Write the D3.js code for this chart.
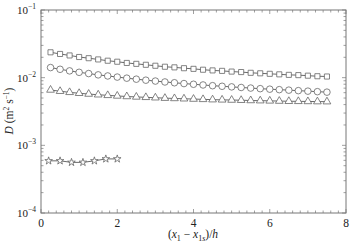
<!DOCTYPE html>
<html>
<head>
<script src="https://cdn.jsdelivr.net/npm/d3@7"></script>
<style type="text/css">
  body{
    margin: 0px;
    background: white;
  }
  svg text{
    font-family: 'Liberation Serif', 'DejaVu Serif', serif;
    fill: #222;
  }
</style>
</head>
<body>
<svg id="chart" width="350" height="242"></svg>
<script>

// data
var xLong = [0.25,0.5,0.75,1,1.25,1.5,1.75,2,2.25,2.5,2.75,3,3.25,3.5,3.75,
             4,4.25,4.5,4.75,5,5.25,5.5,5.75,6,6.25,6.5,6.75,7,7.25,7.5];

var squares = [0.0237,0.0224,0.0213,0.0202,0.0194,0.0186,0.0178,0.0172,0.0165,0.0160,
               0.0155,0.0150,0.0145,0.0142,0.0138,0.0135,0.0131,0.0128,0.0126,0.0123,
               0.0121,0.0118,0.0116,0.0114,0.0112,0.0110,0.0109,0.0107,0.0105,0.0104];

var circles = [0.0141,0.0133,0.0126,0.0120,0.0115,0.0110,0.0106,0.0102,0.00983,0.00950,
               0.00918,0.00891,0.00864,0.00841,0.00818,0.00799,0.00780,0.00761,0.00746,0.00731,
               0.00716,0.00702,0.00688,0.00676,0.00665,0.00654,0.00643,0.00632,0.00621,0.00611];

var triangles = [0.00658,0.00630,0.00607,0.00588,0.00573,0.00559,0.00548,0.00537,0.00527,0.00519,
                 0.00512,0.00505,0.00498,0.00493,0.00488,0.00483,0.00478,0.00473,0.00470,0.00467,
                 0.00464,0.00460,0.00457,0.00454,0.00451,0.00448,0.00447,0.00445,0.00443,0.00442];

var xShort = [0.2,0.5,0.8,1.1,1.4,1.7,2.0];
var stars = [0.00059,0.00059,0.00056,0.00056,0.00059,0.00063,0.00063];

var xTicks = [0,2,4,6,8];
var yTicks = [0.1,0.01,0.001,0.0001];
var yTickExp = ['\u22121','\u22122','\u22123','\u22124'];

var padL = 41, padR = 346, padT = 10, padB = 213;

var x = d3.scaleLinear().domain([0,8]).range([padL,padR]);
var y = d3.scaleLog().domain([1e-4,1e-1]).range([padB,padT]);

var svg = d3.select('#chart');
var axisColor = '#777';
var markColor = '#666';

// minor ticks
var xMinor = d3.range(0,8.001,0.2);
var yMinor = [];
[1e-4,1e-3,1e-2].forEach(function(p) {
  for (var k = 2; k <= 9; k++) yMinor.push(p*k);
});

var ticks = svg.append('g').attr('stroke', axisColor).attr('stroke-width', 0.7);

xMinor.forEach(function(v) {
  var len = (Math.abs(v/2 - Math.round(v/2)) < 1e-6) ? 4 : 2.5;
  ticks.append('line').attr('x1', x(v)).attr('x2', x(v)).attr('y1', padB).attr('y2', padB-len);
  ticks.append('line').attr('x1', x(v)).attr('x2', x(v)).attr('y1', padT).attr('y2', padT+len);
});
yMinor.concat(yTicks).forEach(function(v) {
  var len = yTicks.indexOf(v) >= 0 ? 4 : 2.5;
  ticks.append('line').attr('x1', padL).attr('x2', padL+len).attr('y1', y(v)).attr('y2', y(v));
  ticks.append('line').attr('x1', padR).attr('x2', padR-len).attr('y1', y(v)).attr('y2', y(v));
});

// frame
svg.append('rect')
  .attr('x', padL).attr('y', padT)
  .attr('width', padR-padL).attr('height', padB-padT)
  .attr('fill', 'none')
  .attr('stroke', axisColor)
  .attr('stroke-width', 1);

// x tick labels
svg.selectAll('.xlab')
  .data(xTicks)
  .enter()
  .append('text')
  .attr('class', 'xlab')
  .attr('x', function(d) { return x(d); })
  .attr('y', padB + 14)
  .attr('text-anchor', 'middle')
  .style('font-size', '11.5px')
  .text(function(d) { return d; });

// y tick labels 10^n
var ylab = svg.selectAll('.ylab')
  .data(yTicks)
  .enter()
  .append('text')
  .attr('class', 'ylab')
  .attr('x', padL - 5)
  .attr('y', function(d) { return y(d) + 4; })
  .attr('text-anchor', 'end')
  .style('font-size', '11px');
ylab.append('tspan').text('10');
ylab.append('tspan')
  .attr('dy', -5)
  .style('font-size', '7.5px')
  .text(function(d,i) { return yTickExp[i]; });

// axis titles
var xt = svg.append('text')
  .attr('x', 193)
  .attr('y', 238)
  .attr('text-anchor', 'middle')
  .style('font-size', '11.5px');
xt.append('tspan').text('(');
xt.append('tspan').style('font-style', 'italic').text('x');
xt.append('tspan').attr('dy', 2.5).style('font-size', '8px').text('1');
xt.append('tspan').attr('dy', -2.5).text(' \u2212 ');
xt.append('tspan').style('font-style', 'italic').text('x');
xt.append('tspan').attr('dy', 2.5).style('font-size', '8px').text('1');
xt.append('tspan').style('font-size', '8px').style('font-style', 'italic').text('s');
xt.append('tspan').attr('dy', -2.5).text(')/');
xt.append('tspan').style('font-style', 'italic').text('h');

var yt = svg.append('text')
  .attr('transform', 'translate(13,' + 111 + ') rotate(-90)')
  .attr('text-anchor', 'middle')
  .style('font-size', '11.5px');
yt.append('tspan').style('font-style', 'italic').text('D');
yt.append('tspan').text(' (m');
yt.append('tspan').attr('dy', -4).style('font-size', '7.5px').text('2');
yt.append('tspan').attr('dy', 4).text(' s');
yt.append('tspan').attr('dy', -4).style('font-size', '7.5px').text('\u22121');
yt.append('tspan').attr('dy', 4).text(')');

// series
var line = d3.line()
  .x(function(d) { return x(d[0]); })
  .y(function(d) { return y(d[1]); });

function drawSeries(xs, ys, symbolType, size) {
  var pts = xs.map(function(v,i) { return [v, ys[i]]; });
  svg.append('path')
    .datum(pts)
    .attr('d', line)
    .attr('fill', 'none')
    .attr('stroke', '#444')
    .attr('stroke-width', 0.8);
  svg.append('g').selectAll('path')
    .data(pts)
    .enter()
    .append('path')
    .attr('transform', function(d) { return 'translate(' + x(d[0]) + ',' + y(d[1]) + ')'; })
    .attr('d', d3.symbol().type(symbolType).size(size))
    .attr('fill', 'white')
    .attr('stroke', markColor)
    .attr('stroke-width', 0.8);
}

drawSeries(xLong, squares, d3.symbolSquare, 26);
drawSeries(xLong, circles, d3.symbolCircle, 34);
drawSeries(xLong, triangles, d3.symbolTriangle, 26);
drawSeries(xShort, stars, d3.symbolStar, 18);

</script>
</body>
</html>
